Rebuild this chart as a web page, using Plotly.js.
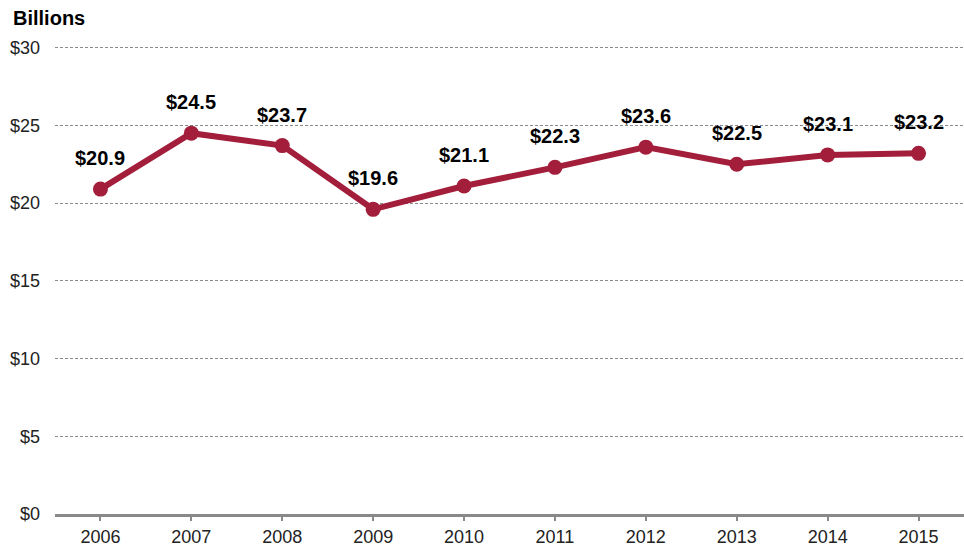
<!DOCTYPE html>
<html>
<head>
<meta charset="utf-8">
<script src="https://cdn.plot.ly/plotly-3.0.1.min.js"></script>
<style>html,body{margin:0;padding:0;background:#fff;}#chart{width:964px;height:551px;}</style>
</head>
<body>
<div id="chart"></div>
<script>
const years = ['2006','2007','2008','2009','2010','2011','2012','2013','2014','2015'];
const values = [20.9, 24.5, 23.7, 19.6, 21.1, 22.3, 23.6, 22.5, 23.1, 23.2];
const labels = ['$20.9','$24.5','$23.7','$19.6','$21.1','$22.3','$23.6','$22.5','$23.1','$23.2'];
const yTicks = [0, 5, 10, 15, 20, 25, 30];
const yTickText = ['$0','$5','$10','$15','$20','$25','$30'];

const lineColor = '#A31E3B';
const fontFam = 'Liberation Sans, Arial, sans-serif';

const trace = {
  x: years,
  y: values,
  type: 'scatter',
  mode: 'lines+markers',
  line: {color: lineColor, width: 6},
  marker: {color: lineColor, size: 15},
  hoverinfo: 'skip',
  cliponaxis: false
};

const annotations = years.map((yr, i) => ({
  x: i, y: values[i], xref: 'x', yref: 'y',
  text: '<b>' + labels[i] + '</b>',
  showarrow: false, yanchor: 'middle', xanchor: 'center', yshift: 31,
  font: {family: fontFam, size: 20, color: '#000'}
}));
annotations.push({
  xref: 'paper', yref: 'paper', x: -0.048, y: 1.0, yshift: 25,
  xanchor: 'left', yanchor: 'middle', showarrow: false,
  text: '<b>Billions</b>',
  font: {family: fontFam, size: 20, color: '#000'}
});

const layout = {
  width: 964, height: 551,
  margin: {l: 55, r: 0, t: 43, b: 37},
  paper_bgcolor: '#fff', plot_bgcolor: '#fff',
  showlegend: false,
  font: {family: fontFam, size: 18, color: '#222'},
  xaxis: {
    type: 'category', range: [-0.5, 9.5],
    showgrid: false, showline: true, linecolor: '#898989', linewidth: 3,
    ticks: 'outside', ticklen: 4, tickwidth: 2, tickcolor: '#898989',
    tickfont: {size: 18, color: '#222'}, fixedrange: true
  },
  yaxis: {
    range: [0, 30.3], tickvals: yTicks, ticktext: yTickText,
    showgrid: true, gridcolor: '#8a8a8a', gridwidth: 1, griddash: '3px,2px',
    zeroline: false, showline: false, ticks: '',
    ticklabelstandoff: 14,
    tickfont: {size: 18, color: '#222'}, fixedrange: true
  },
  annotations: annotations
};

Plotly.newPlot('chart', [trace], layout, {displayModeBar: false, staticPlot: true});
</script>
</body>
</html>
